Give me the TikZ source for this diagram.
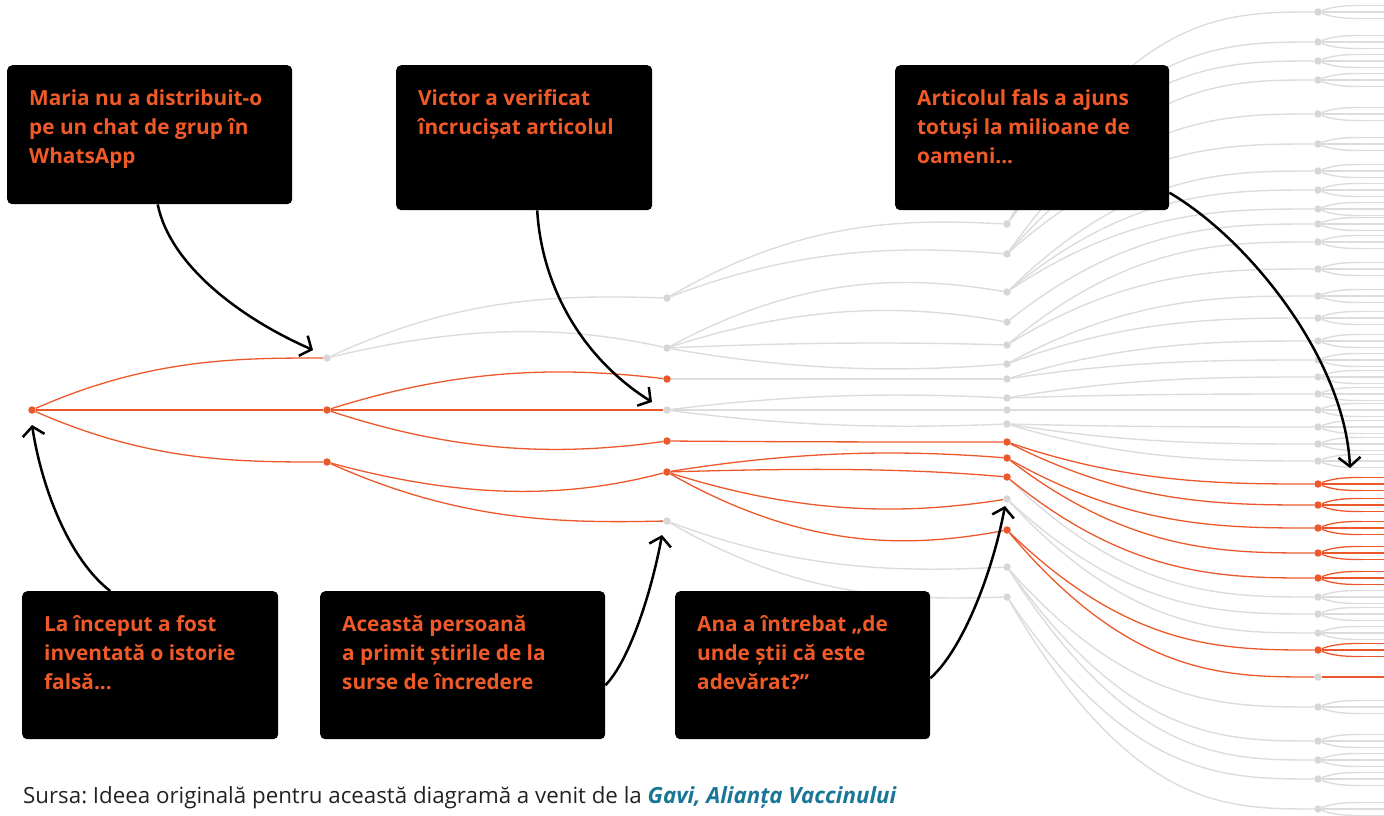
\documentclass[tikz,border=0pt]{standalone}
\usepackage{fontspec}
\setmainfont{Open Sans}
\usetikzlibrary{calc,arrows.meta}
\definecolor{og}{RGB}{236,88,44}
\definecolor{ogt}{RGB}{240,90,40}
\definecolor{gl}{RGB}{220,220,220}
\definecolor{gdc}{RGB}{214,214,214}
\definecolor{lnk}{RGB}{25,118,150}
\definecolor{ft}{RGB}{34,34,34}
\newcommand\lk[4][0]{\draw[#2] let \p1=(#3), \p2=(#4) in (#3) .. controls ({\x1+0.4*(\x2-\x1)},{\y2-(#1)*1pt}) and ({\x1+0.7*(\x2-\x1)},{\y2-(#1)*1pt}) .. (#4);}
\newcommand\boxt[3]{\parbox[t][#2pt][t]{#1pt}{\leftskip=22pt\rule{0pt}{40pt}#3}}
\newcommand\lvs[2]{\foreach \yy in {#2} {%
  \coordinate (t\yy) at (1362,\yy-6.5);
  \coordinate (m\yy) at (1362,\yy);
  \coordinate (b\yy) at (1362,\yy+6.5);
  \lk{#1}{n4-\yy}{t\yy}
  \lk{#1}{n4-\yy}{b\yy}
  \draw[#1] (n4-\yy) -- (m\yy);
  \draw[#1] (t\yy) -- ++(40,0) (m\yy) -- ++(40,0) (b\yy) -- ++(40,0);
}}
\frenchspacing
\begin{document}
\begin{tikzpicture}[x=1pt,y=-1pt,
 dot/.style={circle,inner sep=0pt,minimum size=7.5pt},
 odot/.style={dot,fill=og},
 gdot/.style={dot,fill=gdc},
 oe/.style={draw=og,line width=1.3pt},
 ge/.style={draw=gl,line width=1.4pt},
 arr/.style={draw=black,line width=2.5pt,-{Straight Barb[length=9pt,width=22pt]}},
 bx/.style={fill=black,rounded corners=5pt,inner sep=0pt,anchor=north west,text=ogt,font=\bfseries\fontsize{20.8}{29}\selectfont}]
\useasboundingbox (0,0) rectangle (1384,816);
% tree nodes
\node[odot] (r) at (32,410) {};
\node[gdot] (p1) at (327,358) {};
\node[odot] (p2) at (327,410) {};
\node[odot] (p3) at (327,462) {};
\node[gdot] (qa) at (667,298) {};
\node[gdot] (qb) at (667,348) {};
\node[odot] (qc) at (667,379) {};
\node[gdot] (qd) at (667,410) {};
\node[odot] (qe) at (667,441) {};
\node[odot] (qf) at (667,472) {};
\node[gdot] (qg) at (667,521) {};
\foreach \yy in {224,254,292,322,345,364,379,398,410,424,499,567,597} \node[gdot] (n3-\yy) at (1007,\yy) {};
\foreach \yy in {442,458,477,530} \node[odot] (n3-\yy) at (1007,\yy) {};
\foreach \yy in {12,42,61,80,114,144,171,190,209,224,242,269,296,318,341,360,377,394,410,427,444,461,597,614,633,677,707,741,760,779,809} \node[gdot] (n4-\yy) at (1318,\yy) {};
\foreach \yy in {484,505,528,553,578,650} \node[odot] (n4-\yy) at (1318,\yy) {};
% edges
\lk{oe}{r}{p1} \lk{oe}{r}{p2} \lk{oe}{r}{p3}
\lk[-3]{ge}{p1}{qa} \lk[-23]{ge}{p1}{qb}
\lk[-12]{oe}{p2}{qc} \lk{oe}{p2}{qd} \lk[14]{oe}{p2}{qe}
\lk[27]{oe}{p3}{qf} \lk[2]{oe}{p3}{qg}
\lk[-5]{ge}{qa}{n3-224} \lk[-8]{ge}{qa}{n3-254}
\lk[-17]{ge}{qb}{n3-292} \lk[-18]{ge}{qb}{n3-322} \lk[-3]{ge}{qb}{n3-345} \lk[8]{ge}{qb}{n3-364}
\lk{ge}{qc}{n3-379}
\lk[-5]{ge}{qd}{n3-398} \lk{ge}{qd}{n3-410} \lk[4]{ge}{qd}{n3-424}
\lk{oe}{qe}{n3-442}
\lk[-8]{oe}{qf}{n3-458} \lk[-9]{oe}{qf}{n3-477} \lk[16]{oe}{qf}{n3-499} \lk[19]{oe}{qf}{n3-530}
\lk[5]{ge}{qg}{n3-567} \lk[3]{ge}{qg}{n3-597}
\foreach \aa/\bb in {224/12,224/42,224/61,254/80,254/114,254/144,292/171,292/190,292/209,322/224,345/242,345/269,364/296,364/318,379/341,379/360,398/377,398/394,410/410,424/427,424/444,424/461,477/597,499/614,499/633,567/707,567/741,567/760,597/779,597/809} {\lk{ge}{n3-\aa}{n4-\bb}}
\foreach \aa/\bb in {442/484,442/505,458/528,458/553,477/578,530/650,530/677} {\lk{oe}{n3-\aa}{n4-\bb}}
\lvs{ge}{12,42,61,80,114,144,171,190,209,224,242,269,296,318,341,360,377,394,410,427,444,461,597,614,633,707,741,760,779,809}
\lvs{oe}{484,505,528,553,578,650}
\coordinate (m677) at (1362,677);
\draw[oe] (n4-677) -- (m677) -- ++(40,0);
% boxes
\node[bx] (b1) at (7,65) {\boxt{285}{139}{Maria nu a distribuit-o\\pe un chat de grup în\\WhatsApp}};
\node[bx] (b2) at (396,65) {\boxt{256}{145}{Victor a verificat\\încrucișat articolul}};
\node[bx] (b3) at (895,65) {\boxt{274}{145}{Articolul fals a ajuns\\totuși la milioane de\\oameni...}};
\node[bx] (b4) at (22,591) {\boxt{256}{148}{La început a fost\\inventată o istorie\\falsă...}};
\node[bx] (b5) at (320,591) {\boxt{285}{148}{Această persoană\\a primit știrile de la\\surse de încredere}};
\node[bx] (b6) at (675,591) {\boxt{255}{148}{Ana a întrebat „de\\unde știi că este\\adevărat?”}};
% arrows
\draw[arr] ([xshift=8pt]b1.south) .. controls (170,265) and (240,318) .. ($(p1)+(-14,-8)$);
\draw[arr] ([xshift=13pt]b2.south) .. controls (542,290) and (585,360) .. ($(qd)+(-15,-8)$);
\draw[arr] ([yshift=-55pt]b3.east) .. controls (1250,240) and (1345,360) .. ($(n4-484)+(32,-16)$);
\draw[arr] ([xshift=-40pt]b4.north) .. controls (70,560) and (42,490) .. ($(r)+(0,15)$);
\draw[arr] ([yshift=-20pt]b5.east) .. controls (630,660) and (652,590) .. ($(qg)+(-5,14)$);
\draw[arr] ([yshift=-13pt]b6.east) .. controls (962,650) and (992,575) .. ($(n3-499)+(-2,7)$);
% source
\node[anchor=base west,inner sep=0pt,text=ft,font=\fontsize{22.3}{26}\selectfont] (src) at (23,803) {Sursa: Ideea originală pentru această diagramă a venit de la \textcolor{lnk}{\bfseries\itshape Gavi, Alianța Vaccinului}};
\end{tikzpicture}
\end{document}
